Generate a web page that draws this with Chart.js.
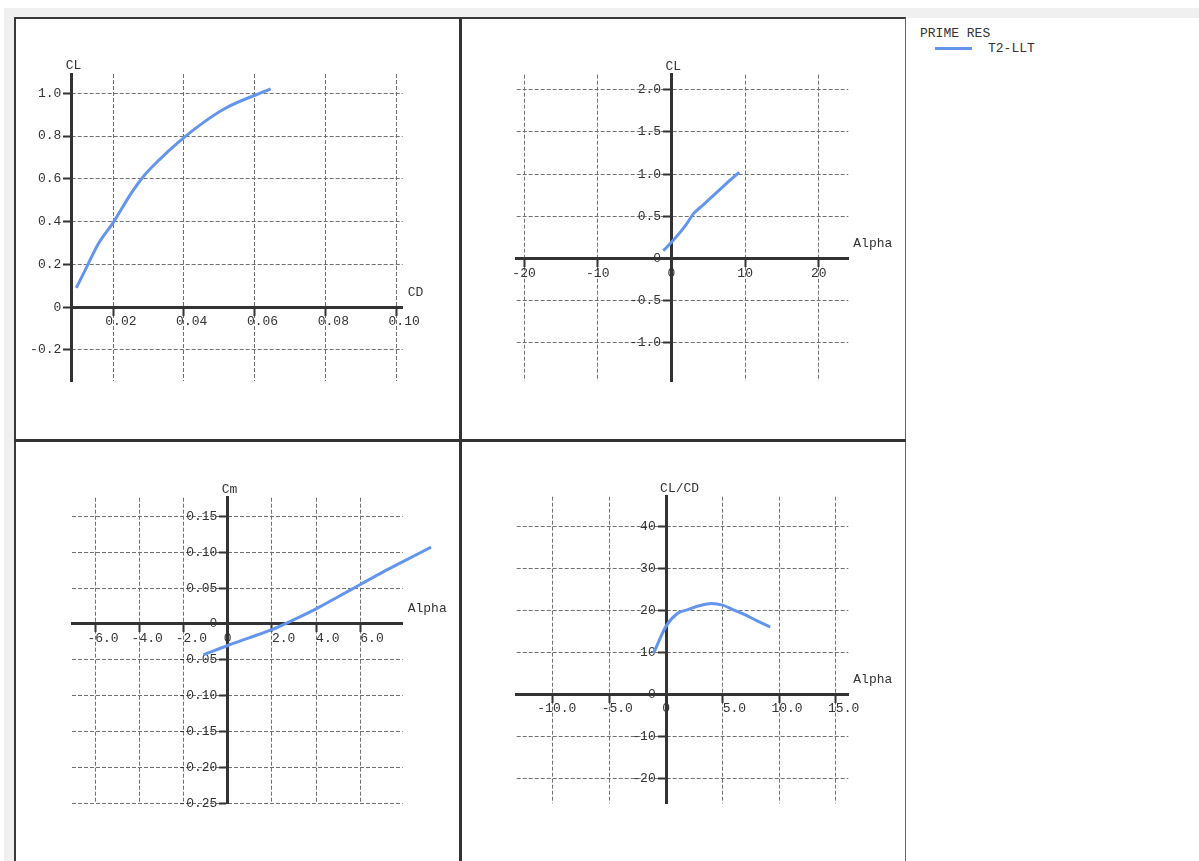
<!DOCTYPE html>
<html>
<head>
<meta charset="utf-8">
<script src="https://cdn.jsdelivr.net/npm/chart.js@4.4.1/dist/chart.umd.min.js"></script>
<style>
  html, body { margin: 0; padding: 0; width: 1199px; height: 861px; overflow: hidden; background: #fff;
    font-family: "Courier New", "Liberation Mono", monospace; font-size: 13px; color: #333; }
  .strip { position: absolute; left: 4px; top: 8px; width: 1195px; height: 853px; background: #f0f0f0; }
  .frame { position: absolute; left: 14px; top: 17px; width: 892px; height: 844px; box-sizing: border-box;
    background: #fff; border-left: 2px solid #3a3a3a; border-top: 2px solid #3a3a3a; border-right: 1px solid #666; }
  .side { position: absolute; left: 906px; top: 18px; width: 293px; height: 843px; background: #fff; }
  .vdiv { position: absolute; left: 459px; top: 17px; width: 3px; height: 844px; background: #333; }
  .hdiv { position: absolute; left: 14px; top: 439px; width: 892px; height: 3px; background: #333; }
  canvas { position: absolute; }
  .lg { position: absolute; white-space: pre; line-height: 15px; }
  .lg-line { position: absolute; left: 935px; top: 47px; width: 37px; height: 3px; background: #6495ED; }
</style>
</head>
<body>
<div class="strip"></div>
<div class="frame"></div>
<div class="side"></div>
<div class="vdiv"></div>
<div class="hdiv"></div>

<canvas id="p1" width="442" height="419" style="left:17px;top:20px"></canvas>
<canvas id="p2" width="443" height="419" style="left:462px;top:20px"></canvas>
<canvas id="p3" width="442" height="419" style="left:17px;top:442px"></canvas>
<canvas id="p4" width="443" height="419" style="left:462px;top:442px"></canvas>

<div class="lg" style="left:920px;top:26px">PRIME RES</div>
<div class="lg-line"></div>
<div class="lg" style="left:988px;top:41px">T2-LLT</div>

<script>
// polar sweep
const alpha = [-1.1, 0, 1, 2, 3, 4, 5, 6, 7, 8, 9.2];
const cl    = [0.09, 0.19, 0.29, 0.40, 0.53, 0.61, 0.69, 0.77, 0.85, 0.93, 1.02];
const cd    = [0.0096, 0.0126, 0.0156, 0.0202, 0.0250, 0.0285, 0.0331, 0.0384, 0.0444, 0.0517, 0.0645];
const cm    = [-0.043, -0.030, -0.019, -0.008, 0.006, 0.021, 0.038, 0.055, 0.072, 0.088, 0.107];
const clcd  = [9.8, 16.2, 19.2, 20.2, 21.1, 21.6, 21.2, 20.0, 18.9, 17.5, 16.0];

// axis ranges and ticks
const p1XRange = [0.0083, 0.1018];
const p1YRange = [-0.345, 1.09];
const p1XTicks = [0.02, 0.04, 0.06, 0.08, 0.10];
const p1XLabels = ['0.02', '0.04', '0.06', '0.08', '0.10'];
const p1YTicks = [-0.2, 0, 0.2, 0.4, 0.6, 0.8, 1.0];
const p1YLabels = ['-0.2', '0', '0.2', '0.4', '0.6', '0.8', '1.0'];

const p2XRange = [-21, 24];
const p2YRange = [-1.457, 2.18];
const p2XTicks = [-20, -10, 0, 10, 20];
const p2XLabels = ['-20', '-10', '0', '10', '20'];
const p2YTicks = [-1.0, -0.5, 0, 0.5, 1.0, 1.5, 2.0];
const p2YLabels = ['-1.0', '-0.5', '0', '0.5', '1.0', '1.5', '2.0'];

const p3XRange = [-7.05, 7.92];
const p3YRange = [-0.25, 0.176];
const p3XTicks = [-6, -4, -2, 0, 2, 4, 6];
const p3XLabels = ['-6.0', '-4.0', '-2.0', '0', '2.0', '4.0', '6.0'];
const p3YTicks = [-0.25, -0.20, -0.15, -0.10, -0.05, 0, 0.05, 0.10, 0.15];
const p3YLabels = ['-0.25', '-0.20', '-0.15', '-0.10', '-0.05', '0', '0.05', '0.10', '0.15'];

const p4XRange = [-13.2, 16.1];
const p4YRange = [-25.95, 47];
const p4XTicks = [-10, -5, 0, 5, 10, 15];
const p4XLabels = ['-10.0', '-5.0', '0', '5.0', '10.0', '15.0'];
const p4YTicks = [-20, -10, 0, 10, 20, 30, 40];
const p4YLabels = ['-20', '-10', '0', '10', '20', '30', '40'];

const FONT = '"Courier New", "Liberation Mono", monospace';
Chart.defaults.font.family = FONT;
Chart.defaults.font.size = 13;
Chart.defaults.color = '#333';

// axis names drawn next to the crossing axes
const axisTitles = {
  id: 'axisTitles',
  afterDraw(chart, args, opts) {
    const { ctx, chartArea, scales } = chart;
    const axX = scales.x.getPixelForValue(opts.yAt);
    const axY = scales.y.getPixelForValue(0);
    ctx.save();
    ctx.font = '13px ' + FONT;
    ctx.fillStyle = '#333';
    ctx.textAlign = 'left';
    ctx.textBaseline = 'middle';
    ctx.fillText(opts.y, axX - 6, chartArea.top - 8);
    ctx.fillText(opts.x, chartArea.right + 5, axY - 15);
    ctx.restore();
  }
};

function axis(range, tickVals, labels, pos, fmt) {
  return {
    type: 'linear',
    position: pos,
    bounds: 'data',
    // range set here (not min/max) so the line is not cut at the axis end
    afterDataLimits: s => { s.min = range[0]; s.max = range[1]; },
    afterBuildTicks: s => { s.ticks = tickVals.map(v => ({ value: v })); },
    ticks: { autoSkip: false, maxRotation: 0, padding: 0, callback: (v, i) => fmt(labels[i]) },
    grid: { color: '#707070', lineWidth: 1, tickLength: 7, tickColor: '#333', tickWidth: 2 },
    border: { display: true, color: '#333', width: 3, dash: [4, 2] }
  };
}

function makePanel(id, o) {
  new Chart(document.getElementById(id), {
    type: 'line',
    data: {
      datasets: [{
        label: 'T2-LLT',
        data: o.xs.map((v, i) => ({ x: v, y: o.ys[i] })),
        borderColor: '#6495ED',
        borderWidth: 3,
        pointRadius: 0,
        cubicInterpolationMode: 'monotone',
        clip: false
      }]
    },
    options: {
      responsive: false,
      animation: false,
      events: [],
      layout: { padding: o.pad },
      plugins: {
        legend: { display: false },
        tooltip: { enabled: false },
        axisTitles: { x: o.xTitle, y: o.yTitle, yAt: o.yAt }
      },
      scales: {
        x: axis(o.xRange, o.xTicks, o.xLabels, { y: 0 },
          s => (o.shiftX && s !== '0') ? s.padStart(6) : s),
        y: axis(o.yRange, o.yTicks, o.yLabels, { x: o.yAt }, s => s + ' \u2009')
      }
    },
    plugins: [axisTitles]
  });
}

makePanel('p1', {
  xs: cd, ys: cl, xTitle: 'CD', yTitle: 'CL', yAt: p1XRange[0], shiftX: true,
  xRange: p1XRange, yRange: p1YRange, xTicks: p1XTicks, xLabels: p1XLabels, yTicks: p1YTicks, yLabels: p1YLabels,
  pad: { left: 54.7, top: 54, right: 56.3, bottom: 58 }
});
makePanel('p2', {
  xs: alpha, ys: cl, xTitle: 'Alpha', yTitle: 'CL', yAt: 0, shiftX: false,
  xRange: p2XRange, yRange: p2YRange, xTicks: p2XTicks, xLabels: p2XLabels, yTicks: p2YTicks, yLabels: p2YLabels,
  pad: { left: 54.7, top: 54.7, right: 56.7, bottom: 58 }
});
makePanel('p3', {
  xs: alpha, ys: cm, xTitle: 'Alpha', yTitle: 'Cm', yAt: 0, shiftX: true,
  xRange: p3XRange, yRange: p3YRange, xTicks: p3XTicks, xLabels: p3XLabels, yTicks: p3YTicks, yLabels: p3YLabels,
  pad: { left: 55, top: 55.7, right: 56.3, bottom: 57.7 }
});
makePanel('p4', {
  xs: alpha, ys: clcd, xTitle: 'Alpha', yTitle: 'CL/CD', yAt: 0, shiftX: true,
  xRange: p4XRange, yRange: p4YRange, xTicks: p4XTicks, xLabels: p4XLabels, yTicks: p4YTicks, yLabels: p4YLabels,
  pad: { left: 54.7, top: 54.7, right: 56.7, bottom: 57.7 }
});
</script>
</body>
</html>
